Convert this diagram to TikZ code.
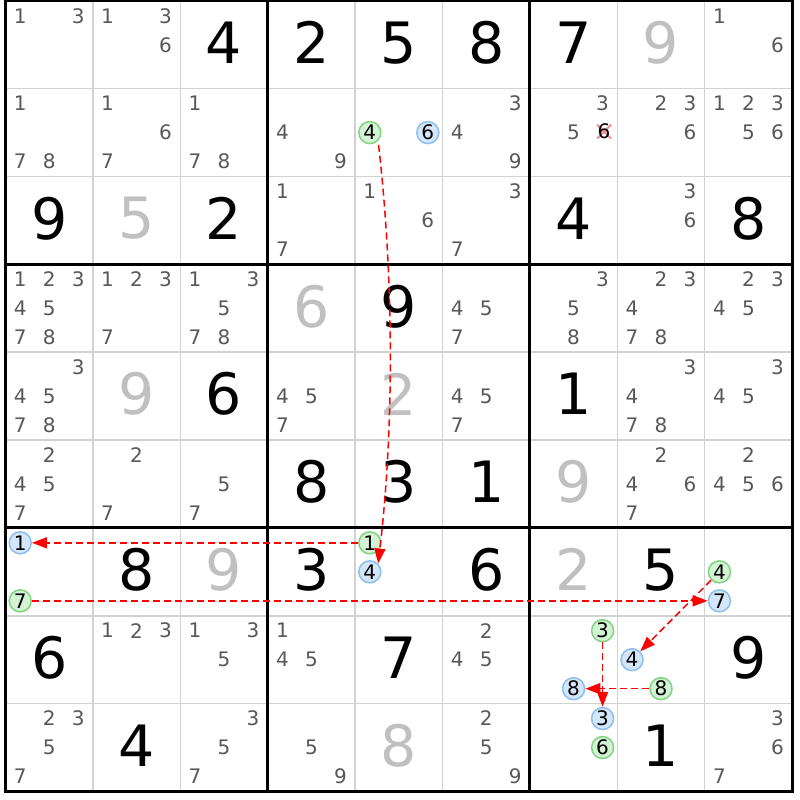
\documentclass[tikz,border=0pt]{standalone}
\usepackage{fontspec}
\newfontfamily\df{DejaVu Sans}
\usetikzlibrary{arrows.meta,calc}
\definecolor{candgray}{RGB}{88,88,88}
\definecolor{solvgray}{RGB}{192,192,192}
\definecolor{gfill}{RGB}{212,242,212}
\definecolor{gdraw}{RGB}{128,212,128}
\definecolor{bfill}{RGB}{212,230,250}
\definecolor{bdraw}{RGB}{140,190,240}
\definecolor{arrred}{RGB}{255,0,0}
\definecolor{xpink}{RGB}{245,140,140}
\definecolor{thingray}{RGB}{210,210,210}
\tikzset{
  cand/.style={font=\df\fontsize{20}{20}\selectfont, text=candgray, inner sep=0pt},
  given/.style={font=\df\fontsize{57}{57}\selectfont, text=black, inner sep=0pt},
  solved/.style={given, text=solvgray},
  gc/.style={circle, draw=gdraw, fill=gfill, line width=1.5pt, minimum size=22pt, inner sep=0pt, font=\df\fontsize{20}{20}\selectfont, text=black},
  bc/.style={gc, draw=bdraw, fill=bfill},
  arr/.style={draw=arrred, line width=1.5pt, dash pattern=on 7pt off 4pt, -{Triangle[length=15pt,width=11pt,fill=arrred]}},
  thinline/.style={draw=thingray, line width=1.5pt},
  thickline/.style={draw=black, line width=3pt, line cap=rect},
  xmark/.style={draw=xpink, line width=2pt}
}
\newcommand\putcands[3]{%
  \foreach \d in {#3}{%
    \pgfmathsetmacro\qx{5.5+87.4*(#2-0.5)+29*(mod(\d-1,3)-1)}%
    \pgfmathsetmacro\qy{0.8+87.85*(#1-0.5)+29*(floor((\d-1)/3)-1)}%
    \node[cand] (k#1#2\d) at (\qx,\qy) {\d};}}
\newcommand\hlc[4]{%
  \pgfmathsetmacro\qx{5.5+87.4*(#2-0.5)+29*(mod(#3-1,3)-1)}%
  \pgfmathsetmacro\qy{0.8+87.85*(#1-0.5)+29*(floor((#3-1)/3)-1)}%
  \node[#4] (k#1#2#3) at (\qx,\qy) {#3};}
\newcommand\bigdig[4]{%
  \pgfmathsetmacro\qx{5.5+87.4*(#2-0.5)}%
  \pgfmathsetmacro\qy{0.8+87.85*(#1-0.5)-2}%
  \node[#4] (g#1#2) at (\qx,\qy) {#3};}
\begin{document}
\begin{tikzpicture}[x=1pt,y=-1pt]
\useasboundingbox[fill=white] (0,0) rectangle (800,800);
% grid
\foreach \i in {1,2,4,5,7,8}{%
  \draw[thinline] ({5.5+87.4*\i},0.8) -- ({5.5+87.4*\i},791.45);
  \draw[thinline] (5.5,{0.8+87.85*\i}) -- (792.1,{0.8+87.85*\i});}
\foreach \i in {0,3,6,9}{%
  \draw[thickline] ({5.5+87.4*\i},0.8) -- ({5.5+87.4*\i},791.45);
  \draw[thickline] (5.5,{0.8+87.85*\i}) -- (792.1,{0.8+87.85*\i});}
% candidates
\putcands{1}{1}{1,3}
\putcands{1}{2}{1,3,6}
\putcands{1}{9}{1,6}
\putcands{2}{1}{1,7,8}
\putcands{2}{2}{1,6,7}
\putcands{2}{3}{1,7,8}
\putcands{2}{4}{4,9}
\putcands{2}{6}{3,4,9}
\putcands{2}{7}{3,5}
\putcands{2}{8}{2,3,6}
\putcands{2}{9}{1,2,3,5,6}
\putcands{3}{4}{1,7}
\putcands{3}{5}{1,6}
\putcands{3}{6}{3,7}
\putcands{3}{8}{3,6}
\putcands{4}{1}{1,2,3,4,5,7,8}
\putcands{4}{2}{1,2,3,7}
\putcands{4}{3}{1,3,5,7,8}
\putcands{4}{6}{4,5,7}
\putcands{4}{7}{3,5,8}
\putcands{4}{8}{2,3,4,7,8}
\putcands{4}{9}{2,3,4,5}
\putcands{5}{1}{3,4,5,7,8}
\putcands{5}{4}{4,5,7}
\putcands{5}{6}{4,5,7}
\putcands{5}{8}{3,4,7,8}
\putcands{5}{9}{3,4,5}
\putcands{6}{1}{2,4,5,7}
\putcands{6}{2}{2,7}
\putcands{6}{3}{5,7}
\putcands{6}{8}{2,4,6,7}
\putcands{6}{9}{2,4,5,6}
\putcands{8}{2}{1,2,3}
\putcands{8}{3}{1,3,5}
\putcands{8}{4}{1,4,5}
\putcands{8}{6}{2,4,5}
\putcands{9}{1}{2,3,5,7}
\putcands{9}{3}{3,5,7}
\putcands{9}{4}{5,9}
\putcands{9}{6}{2,5,9}
\putcands{9}{9}{3,6,7}
% eliminated candidate
\pgfmathsetmacro\ex{5.5+87.4*6.5+29+1.5}
\pgfmathsetmacro\ey{0.8+87.85*1.5-1}
\draw[xmark] (\ex-7,\ey-7) -- (\ex+7,\ey+7);
\draw[xmark] (\ex-7,\ey+7) -- (\ex+7,\ey-7);
\node[cand, text=black] (k276) at (\ex,\ey) {6};
% givens
\bigdig{1}{3}{4}{given}
\bigdig{1}{4}{2}{given}
\bigdig{1}{5}{5}{given}
\bigdig{1}{6}{8}{given}
\bigdig{1}{7}{7}{given}
\bigdig{3}{1}{9}{given}
\bigdig{3}{3}{2}{given}
\bigdig{3}{7}{4}{given}
\bigdig{3}{9}{8}{given}
\bigdig{4}{5}{9}{given}
\bigdig{5}{3}{6}{given}
\bigdig{5}{7}{1}{given}
\bigdig{6}{4}{8}{given}
\bigdig{6}{5}{3}{given}
\bigdig{6}{6}{1}{given}
\bigdig{7}{2}{8}{given}
\bigdig{7}{4}{3}{given}
\bigdig{7}{6}{6}{given}
\bigdig{7}{8}{5}{given}
\bigdig{8}{1}{6}{given}
\bigdig{8}{5}{7}{given}
\bigdig{8}{9}{9}{given}
\bigdig{9}{2}{4}{given}
\bigdig{9}{8}{1}{given}
% solved
\bigdig{1}{8}{9}{solved}
\bigdig{3}{2}{5}{solved}
\bigdig{4}{4}{6}{solved}
\bigdig{5}{2}{9}{solved}
\bigdig{5}{5}{2}{solved}
\bigdig{6}{7}{9}{solved}
\bigdig{7}{3}{9}{solved}
\bigdig{7}{7}{2}{solved}
\bigdig{9}{5}{8}{solved}
% highlighted candidates
\hlc{2}{5}{4}{gc}
\hlc{2}{5}{6}{bc}
\hlc{7}{1}{1}{bc}
\hlc{7}{1}{7}{gc}
\hlc{7}{5}{1}{gc}
\hlc{7}{5}{4}{bc}
\hlc{7}{9}{4}{gc}
\hlc{7}{9}{7}{bc}
\hlc{8}{7}{3}{gc}
\hlc{8}{7}{8}{bc}
\hlc{8}{8}{4}{bc}
\hlc{8}{8}{8}{gc}
\hlc{9}{7}{3}{bc}
\hlc{9}{7}{6}{gc}
% chain arrows
\draw[arr, shorten <=4pt] (k254.-45) .. controls (394,280) and (394,430) .. (k754.45);
\draw[arr] (k751) -- (k711);
\draw[arr] (k717) -- (k797);
\draw[arr] (k794) -- (k884);
\draw[arr] (k873) -- (k973);
\draw[arr] (k888) -- (k878);
\end{tikzpicture}
\end{document}
